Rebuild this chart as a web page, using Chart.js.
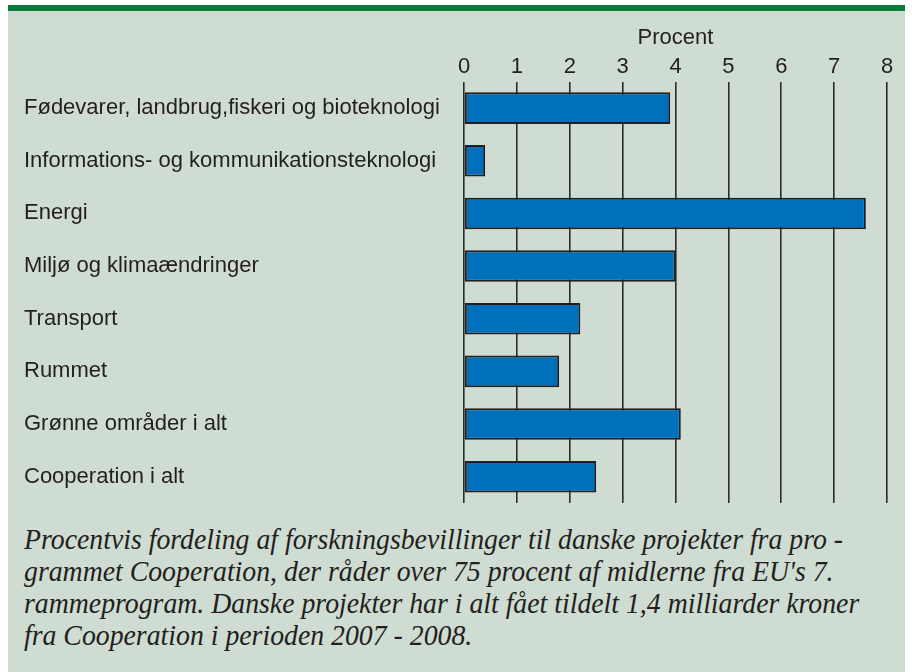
<!DOCTYPE html>
<html>
<head>
<meta charset="utf-8">
<script src="https://cdn.jsdelivr.net/npm/chart.js@4"></script>
<style>
  html, body { margin: 0; padding: 0; background: #ffffff; width: 912px; height: 672px; overflow: hidden; }
  #panel { position: absolute; left: 8px; top: 5px; width: 897px; height: 667px; background: #cfdcd1; }
  #green { position: absolute; left: 8px; top: 5px; width: 897px; height: 6px; background: #0a7b3c; }
  #wrap { position: absolute; left: 0; top: 0; width: 912px; height: 520px; }
  #caption { position: absolute; left: 24px; top: 523px; font-family: "Liberation Serif", "Times New Roman", Times, serif;
             font-style: italic; font-size: 29px; line-height: 32px; color: #231f20; transform-origin: 0 0; white-space: nowrap; }
  #caption div { height: 32px; }
</style>
</head>
<body>
<div id="panel"></div>
<div id="green"></div>
<div id="wrap"><canvas id="c" width="912" height="520"></canvas></div>
<div id="caption">
  <div><span id="l1">Procentvis fordeling af forskningsbevillinger til danske projekter fra pro -</span></div>
  <div>grammet Cooperation, der råder over 75 procent af midlerne fra EU's 7.</div>
  <div>rammeprogram. Danske projekter har i alt fået tildelt 1,4 milliarder kroner</div>
  <div>fra Cooperation i perioden 2007 - 2008.</div>
</div>
<script>
const categories = [
  "Fødevarer, landbrug,fiskeri og bioteknologi",
  "Informations- og kommunikationsteknologi",
  "Energi",
  "Miljø og klimaændringer",
  "Transport",
  "Rummet",
  "Grønne områder i alt",
  "Cooperation i alt"
];
const values = [3.9, 0.4, 7.6, 4.0, 2.2, 1.8, 4.1, 2.5];
const axisTitle = "Procent";
const xMin = 0, xMax = 8, xStep = 1;

const font = "'Liberation Sans', Arial, Helvetica, sans-serif";

new Chart(document.getElementById('c'), {
  type: 'bar',
  data: {
    labels: categories,
    datasets: [{
      data: values,
      backgroundColor: '#0070bb',
      borderColor: '#231f20',
      borderWidth: 2,
      borderSkipped: false,
      barPercentage: 0.6,
      categoryPercentage: 1.0
    }]
  },
  options: {
    indexAxis: 'y',
    responsive: false,
    animation: false,
    devicePixelRatio: 1,
    layout: { padding: { left: 24, right: 25, top: 25, bottom: 17 } },
    plugins: { legend: { display: false }, tooltip: { enabled: false }, title: { display: false } },
    scales: {
      x: {
        position: 'top',
        min: xMin, max: xMax,
        ticks: { stepSize: xStep, color: '#231f20', font: { family: font, size: 22 }, padding: 2 },
        grid: { color: '#2b2b2b', lineWidth: 1.6, drawTicks: false },
        border: { display: false },
        title: { display: true, text: axisTitle, color: '#231f20', font: { family: font, size: 22 }, padding: { top: 0, bottom: 0 } }
      },
      y: {
        ticks: { color: '#231f20', font: { family: font, size: 22 }, crossAlign: 'far', padding: 0 },
        grid: { display: false, drawTicks: false },
        border: { display: false },
        afterFit: (s) => { s.width = 440; }
      }
    }
  }
});

const cap = document.getElementById('caption');
const l1 = document.getElementById('l1');
const w = l1.getBoundingClientRect().width;
const f = 819 / w;
cap.style.transform = 'scaleX(' + f + ')';
</script>
</body>
</html>
